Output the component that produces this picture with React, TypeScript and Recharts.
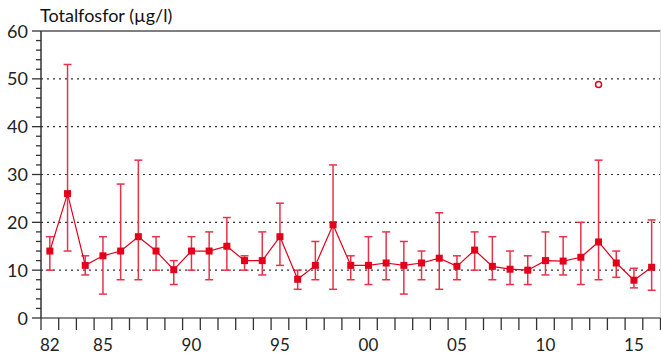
import React from 'react';
import { ComposedChart, Line, ErrorBar, Scatter, XAxis, YAxis, ReferenceLine } from 'recharts';

const years = [1982,1983,1984,1985,1986,1987,1988,1989,1990,1991,1992,1993,1994,1995,1996,1997,1998,1999,2000,2001,2002,2003,2004,2005,2006,2007,2008,2009,2010,2011,2012,2013,2014,2015,2016];
const means = [14,26,11,13,14,17,14,10.1,14,14,15,12,12,17,8.1,11,19.5,11,11,11.5,11,11.5,12.5,10.8,14.2,10.8,10.2,10,12,11.9,12.7,15.9,11.5,7.9,10.6];
const highs = [17,53,13,17,28,33,17,12,17,18,21,13,18,24,10,16,32,13,17,18,16,14,22,13,18,17,14,13,18,17,20,33,14,10.4,20.5];
const lows = [10,14,9,5,8,8,10,7,10,8,10,10,9,11,6,8,6,8,7,8,5,8,6,8,10,8,7,7,9,9,7,8,8.5,6.3,5.8];
const outlierYears = [2013];
const outlierValues = [48.8];
const labelYears = [1982,1985,1990,1995,2000,2005,2010,2015];
const labelTexts = ['82','85','90','95','00','05','10','15'];
const yTicks = [0,2,4,6,8,10,12,14,16,18,20,22,24,26,28,30,32,34,36,38,40,42,44,46,48,50,52,54,56,58,60];
const gridValues = [10,20,30,40,50];

const data = years.map((yr, i) => ({ year: yr, mean: means[i], err: [means[i] - lows[i], highs[i] - means[i]] }));
const outlierData = outlierYears.map((yr, i) => ({ year: yr, value: outlierValues[i] }));
const boundaryTicks = [...years.map(y => y - 0.5), years[years.length - 1] + 0.5];
const xTicks = [...boundaryTicks, ...labelYears];

const RED = '#e2001a';
const FONT = 'Lato, "Open Sans", sans-serif';

const YTick = (props: any) => {
  const { x, y, payload } = props;
  const major = payload.value % 10 === 0;
  return (
    <g>
      <line x1={x - (major ? 9 : 5)} x2={x} y1={y} y2={y} stroke="#333" strokeWidth={1.3} />
      {major && (
        <text x={x - 13} y={y} dy={6.5} textAnchor="end" fontFamily={FONT} fontSize={18} fill="#222">
          {payload.value}
        </text>
      )}
    </g>
  );
};

const XTick = (props: any) => {
  const { x, y, payload } = props;
  const v = payload.value;
  const idx = labelYears.indexOf(v);
  if (idx >= 0) {
    return (
      <text x={x} y={y + 33} textAnchor="middle" fontFamily={FONT} fontSize={17} fill="#222">
        {labelTexts[idx]}
      </text>
    );
  }
  return <line x1={x} x2={x} y1={y} y2={y + 12} stroke="#333" strokeWidth={1.3} />;
};

const Square = (props: any) => {
  const { cx, cy, index } = props;
  if (cx == null || cy == null) return <g key={`d${index}`} />;
  return <rect key={`d${index}`} x={cx - 3.5} y={cy - 3.5} width={7} height={7} fill={RED} />;
};

const Ring = (props: any) => {
  const { cx, cy } = props;
  return <circle cx={cx} cy={cy} r={3} fill="#fff" stroke={RED} strokeWidth={1.5} />;
};

export default function App() {
  return (
    <div style={{ position: 'absolute', left: 0, top: 0, width: 661, height: 361, background: '#fff' }}>
      <div style={{ position: 'absolute', left: 40, top: 5, fontFamily: FONT, fontSize: 18, lineHeight: '20px', color: '#111' }}>
        Totalfosfor (µg/l)
      </div>
      <ComposedChart width={661} height={361} data={data} margin={{ top: 31, right: 0.5, left: 0, bottom: 0 }}>
        <XAxis
          dataKey="year"
          type="number"
          domain={[1981.5, 2016.5]}
          ticks={xTicks}
          interval={0}
          tickSize={0}
          tickMargin={0}
          tickLine={false}
          tick={<XTick />}
          axisLine={{ stroke: '#8a8a8a', strokeWidth: 2 }}
          height={43}
          allowDataOverflow
        />
        <YAxis
          type="number"
          domain={[0, 60]}
          ticks={yTicks}
          interval={0}
          tickSize={0}
          tickMargin={0}
          tickLine={false}
          tick={<YTick />}
          axisLine={{ stroke: '#333', strokeWidth: 1.5 }}
          width={41}
          allowDataOverflow
        />
        {gridValues.map(v => (
          <ReferenceLine key={v} y={v} stroke="#333" strokeWidth={1.2} strokeDasharray="2 4" />
        ))}
        <ReferenceLine y={60} stroke="#555" strokeWidth={1.5} />
        <ReferenceLine x={2016.5} stroke="#ddd" strokeWidth={1} />
        <Line
          dataKey="mean"
          type="linear"
          stroke={RED}
          strokeWidth={1.2}
          dot={Square}
          activeDot={false}
          isAnimationActive={false}
        >
          <ErrorBar dataKey="err" direction="y" width={4} stroke="#e8324a" strokeWidth={1.5} />
        </Line>
        <Scatter data={outlierData} dataKey="value" shape={Ring} isAnimationActive={false} />
      </ComposedChart>
    </div>
  );
}
